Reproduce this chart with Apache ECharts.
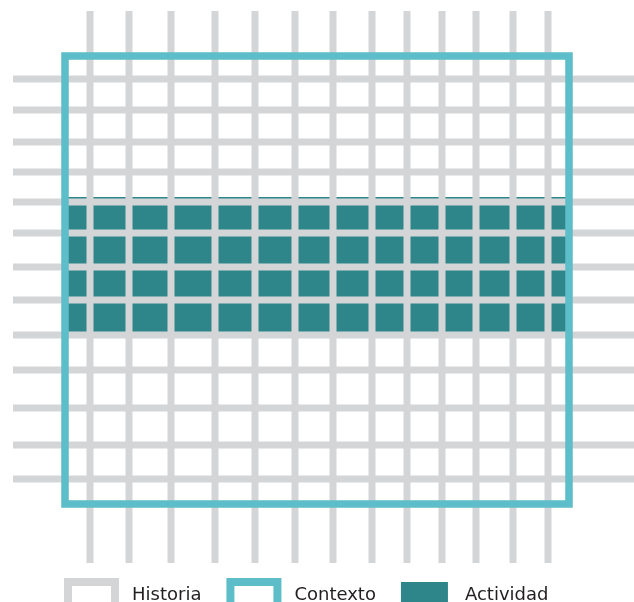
<!DOCTYPE html>
<html lang="es">
<head>
    <meta charset="utf-8" />
    <title>Historia, Contexto, Actividad</title>
    <script src="https://cdn.jsdelivr.net/npm/echarts@6/dist/echarts.min.js"></script>
</head>
<body style="padding:0px;margin:0px;overflow:hidden;background:#fff;">

<div id="main" style="width:634px;height:602px;"></div>

<script type="text/javascript">
    // posiciones en unidades del eje (0..634 horizontal, 0..602 vertical, y hacia abajo)
    var seriesNames = ['Historia', 'Contexto', 'Actividad'];
    var verticalX = [90, 129, 171, 215, 255, 295, 333, 372, 407, 442, 476, 513, 548];
    var verticalSpan = [11, 563];
    var horizontalY = [79, 110, 142, 172, 202, 233, 267, 300, 335, 370, 408, 445, 479];
    var horizontalSpan = [13, 634];
    var contextoBox = [65, 56, 569, 504];      // x0, y0, x1, y1
    var actividadBand = [65, 197, 569, 335];   // x0, y0, x1, y1

    var gray = '#d4d5d7';
    var lightTeal = '#5dbdc9';
    var darkTeal = '#2e868b';

    // lineas de la historia: [x0, y0, x1, y1]
    var historiaData = [];
    verticalX.forEach(function (x) {
        historiaData.push([x, verticalSpan[0], x, verticalSpan[1]]);
    });
    horizontalY.forEach(function (y) {
        historiaData.push([horizontalSpan[0], y, horizontalSpan[1], y]);
    });

    function renderLine(params, api) {
        var p0 = api.coord([api.value(0), api.value(1)]);
        var p1 = api.coord([api.value(2), api.value(3)]);
        return {
            type: 'line',
            shape: { x1: p0[0], y1: p0[1], x2: p1[0], y2: p1[1] },
            style: { stroke: gray, lineWidth: 7 }
        };
    }

    function rectRenderer(fill, stroke, width) {
        return function (params, api) {
            var p0 = api.coord([api.value(0), api.value(1)]);
            var p1 = api.coord([api.value(2), api.value(3)]);
            return {
                type: 'rect',
                shape: { x: p0[0], y: p0[1], width: p1[0] - p0[0], height: p1[1] - p0[1] },
                style: { fill: fill, stroke: stroke, lineWidth: width }
            };
        };
    }

    var myChart = echarts.init(document.getElementById('main'));

    var option = {
        animation: false,
        grid: { left: 0, right: 0, top: 0, bottom: 0 },
        xAxis: { type: 'value', min: 0, max: 634, show: false },
        yAxis: { type: 'value', min: 0, max: 602, inverse: true, show: false },
        legend: {
            left: 59,
            top: 573,
            itemWidth: 47,
            itemHeight: 26,
            itemGap: 25,
            selectedMode: false,
            textStyle: {
                fontFamily: 'DejaVu Sans',
                fontSize: 18,
                color: '#231f20',
                padding: [0, 0, 8, 12]
            },
            data: [
                { name: seriesNames[0], icon: 'rect', itemStyle: { color: '#fff', borderColor: gray, borderWidth: 8 } },
                { name: seriesNames[1], icon: 'rect', itemStyle: { color: '#fff', borderColor: lightTeal, borderWidth: 8 } },
                { name: seriesNames[2], icon: 'rect', itemStyle: { color: darkTeal, borderWidth: 0 } }
            ]
        },
        series: [
            {
                name: seriesNames[2],
                type: 'custom',
                z: 1,
                renderItem: rectRenderer(darkTeal, null, 0),
                data: [actividadBand]
            },
            {
                name: seriesNames[0],
                type: 'custom',
                z: 2,
                renderItem: renderLine,
                data: historiaData
            },
            {
                name: seriesNames[1],
                type: 'custom',
                z: 3,
                renderItem: rectRenderer(null, lightTeal, 7.5),
                data: [contextoBox]
            }
        ]
    };

    myChart.setOption(option);
</script>
</body>
</html>
